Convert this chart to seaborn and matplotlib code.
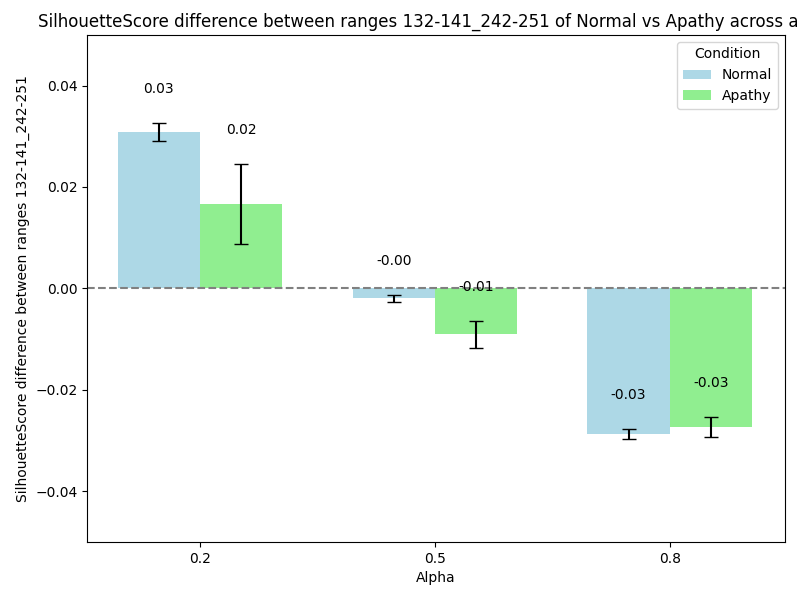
import pandas as pd
import numpy as np
import seaborn as sns
from matplotlib import pyplot as plt

alphas = ["0.2", "0.5", "0.8"]
conditions = ["Normal", "Apathy"]
normal_mean = [0.0309, -0.0020, -0.0288]
normal_err = [0.0018, 0.0007, 0.0010]
apathy_mean = [0.0167, -0.0091, -0.0274]
apathy_err = [0.0079, 0.0027, 0.0020]

df = pd.DataFrame({
    "Alpha": alphas * 2,
    "Condition": ["Normal"] * 3 + ["Apathy"] * 3,
    "value": normal_mean + apathy_mean,
})

fig, ax = plt.subplots(figsize=(8, 6), dpi=100)
sns.barplot(data=df, x="Alpha", y="value", hue="Condition", hue_order=conditions,
            palette=["lightblue", "lightgreen"], width=0.7, gap=0, errorbar=None,
            saturation=1, ax=ax)

x = np.arange(len(alphas))
for off, means, errs in [(-0.175, normal_mean, normal_err), (0.175, apathy_mean, apathy_err)]:
    ax.errorbar(x + off, means, yerr=errs, fmt="none", ecolor="black", capsize=5)
    for xi, m, e in zip(x + off, means, errs):
        ax.text(xi, m + e + 0.0067, f"{m:.2f}", ha="center", va="center", fontsize=10)

ax.axhline(0, color="gray", linestyle="--")
ax.set_xlim(-0.48, 2.49)
ax.set_ylim(-0.05, 0.05)
ax.set_xlabel("Alpha")
ax.set_ylabel("SilhouetteScore difference between ranges 132-141_242-251")
ax.set_title("SilhouetteScore difference between ranges 132-141_242-251 of Normal vs Apathy across alpha")
ax.legend(title="Condition", loc="upper right")
fig.subplots_adjust(left=0.109, right=0.981, top=0.942, bottom=0.097)
fig.savefig("out.png")
